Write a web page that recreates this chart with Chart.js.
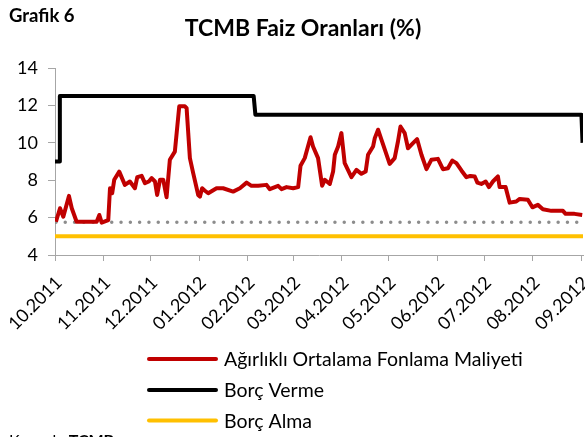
<!DOCTYPE html>
<html>
<head>
<meta charset="utf-8">
<script src="https://cdn.jsdelivr.net/npm/chart.js@4.4.0/dist/chart.umd.min.js"></script>
<style>
  html, body { margin: 0; padding: 0; width: 585px; height: 437px; overflow: hidden; background: #fff; }
  #wrap { position: relative; width: 585px; height: 437px; overflow: hidden; }
  canvas { position: absolute; left: 0; top: 0; }
  .t { position: absolute; font-family: Lato, "Open Sans", sans-serif; color: #000; white-space: nowrap; line-height: 1.2; }
</style>
</head>
<body>
<div id="wrap">
  <canvas id="c" width="585" height="437"></canvas>
  <div class="t" style="left:9px; top:4px; font-size:18.5px; font-weight:bold;">Grafik 6</div>
  <div class="t" style="left:0; width:606px; text-align:center; top:14px; font-size:23px; font-weight:bold;">TCMB Faiz Oranları (%)</div>
  <div class="t" style="left:9px; top:430px; font-size:16px;">Kaynak: <b>TCMB</b></div>
</div>
<script>
// x values are days since 1 Oct 2011
const monthDays   = [0, 31, 61, 92, 123, 152, 183, 213, 244, 274, 305, 336];
const monthLabels = ["10.2011","11.2011","12.2011","01.2012","02.2012","03.2012","04.2012","05.2012","06.2012","07.2012","08.2012","09.2012"];

const seriesNames = ["Ağırlıklı Ortalama Fonlama Maliyeti", "Borç Verme", "Borç Alma"];

// Ağırlıklı Ortalama Fonlama Maliyeti
const fundingDays = [0.6,3.2,5.3,8.9,10.7,13.8,26.6,28.3,29.8,34.0,35.1,36.5,37.8,41.0,44.6,47.8,51.0,52.5,55.3,57.4,59.9,61.7,63.8,65.2,67.0,69.1,71.2,73.3,76.5,79.3,82.9,84.0,86.1,88.2,91.4,92.5,93.9,95.5,97.8,103.1,107.3,113.7,118.0,122.3,125.4,129.7,135.0,137.1,142.4,144.6,147.8,152.0,155.2,156.7,159.4,163.1,164.7,167.9,170.5,172.2,175.4,177.5,178.6,180.7,182.8,184.9,189.2,192.4,195.6,198.3,199.8,203.0,204.1,206.2,208.4,213.6,216.8,218.9,220.5,223.2,225.3,228.5,231.1,233.9,237.1,240.2,244.4,247.6,250.8,253.6,256.2,259.4,262.6,265.1,267.9,269.6,272.1,274.9,277.0,279.5,282.7,283.8,287.6,290.2,294.4,296.6,301.8,304.7,308.2,311.4,316.8,324.2,325.9,331.6,336.5];
const fundingRate = [5.78,6.5,6.05,7.16,6.5,5.78,5.78,6.14,5.73,5.87,7.57,7.3,8.02,8.46,7.75,7.93,7.57,8.16,8.23,7.84,7.93,8.11,7.93,7.21,8.02,8.02,7.09,9.09,9.53,11.95,11.95,11.85,9.18,8.38,7.21,7.12,7.57,7.45,7.3,7.57,7.57,7.39,7.57,7.87,7.7,7.7,7.75,7.52,7.7,7.52,7.63,7.57,7.63,8.77,9.18,10.3,9.8,9.18,7.7,8.02,7.8,8.46,9.36,9.8,10.52,8.91,8.16,8.55,8.34,8.46,9.36,9.8,10.25,10.7,10.16,8.87,9.18,10.07,10.87,10.52,9.71,9.98,10.2,9.36,8.59,9.09,9.14,8.59,8.64,9.05,8.91,8.52,8.16,8.23,8.2,7.87,7.8,7.93,7.63,7.93,8.2,7.63,7.63,6.8,6.86,7.0,6.95,6.55,6.68,6.45,6.36,6.36,6.2,6.2,6.14];

// Borç Verme (overnight lending)
const lendingDays = [0, 2.6, 3.1, 126.8, 127.9, 336.0, 336.7];
const lendingRate = [9, 9, 12.5, 12.5, 11.5, 11.5, 10];

// Borç Alma (overnight borrowing)
const borrowingDays = [0, 337];
const borrowingRate = [5, 5];

// One-week repo (dotted, no legend entry)
const repoDays = [0.6, 337];
const repoRate = [5.75, 5.75];

const yTicks = [4, 6, 8, 10, 12, 14];

const pts = (xs, ys) => xs.map((x, i) => ({ x: x, y: ys[i] }));

const colors = ["#C00000", "#000000", "#FFC000"];
const FONT = 'Lato, "Open Sans", sans-serif';

const legendPlugin = {
  id: 'vlegend',
  afterDraw(chart) {
    const ctx = chart.ctx;
    const rows = [359, 390, 420.5];
    ctx.save();
    for (let i = 0; i < 3; i++) {
      ctx.strokeStyle = colors[i];
      ctx.lineWidth = 4;
      ctx.lineCap = 'round';
      ctx.beginPath();
      ctx.moveTo(149, rows[i]);
      ctx.lineTo(216, rows[i]);
      ctx.stroke();
      ctx.fillStyle = '#000';
      ctx.font = '19.5px ' + FONT;
      ctx.textBaseline = 'middle';
      ctx.textAlign = 'left';
      ctx.fillText(seriesNames[i], 224, rows[i] + 1);
    }
    ctx.restore();
  }
};

new Chart(document.getElementById('c'), {
  type: 'line',
  data: {
    datasets: [
      { label: seriesNames[0], data: pts(fundingDays, fundingRate), borderColor: colors[0], borderWidth: 4, pointRadius: 0, borderJoinStyle: 'round', tension: 0 },
      { label: seriesNames[1], data: pts(lendingDays, lendingRate), borderColor: colors[1], borderWidth: 4, pointRadius: 0, borderJoinStyle: 'round', tension: 0 },
      { label: seriesNames[2], data: pts(borrowingDays, borrowingRate), borderColor: colors[2], borderWidth: 4, pointRadius: 0, tension: 0 },
      { label: 'repo', data: pts(repoDays, repoRate), borderColor: '#8c8c8c', borderWidth: 3.5, borderDash: [0, 9.3], borderCapStyle: 'round', pointRadius: 0, tension: 0 }
    ]
  },
  options: {
    responsive: false,
    animation: false,
    events: [],
    layout: { padding: { top: 68, left: 0, right: 2, bottom: 0 } },
    plugins: { legend: { display: false }, title: { display: false }, tooltip: { enabled: false } },
    scales: {
      x: {
        type: 'linear',
        min: 0,
        max: 337,
        afterBuildTicks: (scale) => { scale.ticks = monthDays.map(v => ({ value: v })); },
        afterFit: (scale) => { scale.height = 182; scale.paddingLeft = 0; scale.paddingRight = 0; },
        ticks: {
          autoSkip: false,
          minRotation: 45,
          maxRotation: 45,
          padding: 11,
          labelOffset: 4,
          color: '#000',
          font: { family: FONT, size: 18 },
          callback: (v) => { const i = monthDays.indexOf(v); return i >= 0 ? monthLabels[i] : ''; }
        },
        grid: { drawOnChartArea: false, drawTicks: true, tickLength: 6, color: '#a6a6a6' },
        border: { color: '#a6a6a6', width: 1 }
      },
      y: {
        min: 4,
        max: 14,
        afterBuildTicks: (scale) => { scale.ticks = yTicks.map(v => ({ value: v })); },
        afterFit: (scale) => { scale.width = 55; },
        ticks: { color: '#000', padding: 10, font: { family: FONT, size: 18 } },
        grid: { drawOnChartArea: false, drawTicks: true, tickLength: 7, color: '#a6a6a6' },
        border: { color: '#a6a6a6', width: 1 }
      }
    }
  },
  plugins: [legendPlugin]
});
</script>
</body>
</html>
